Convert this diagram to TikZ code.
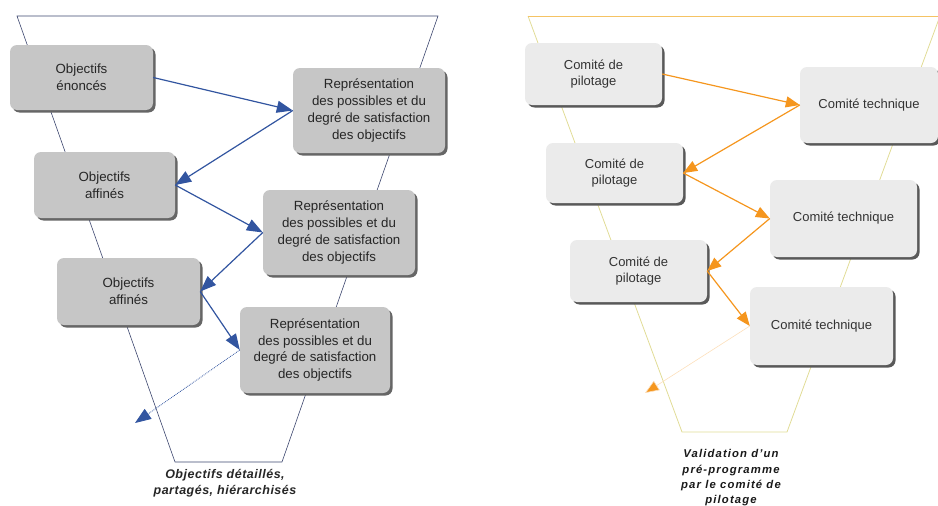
\documentclass[tikz,border=0pt]{standalone}
\usepackage{fontspec}
\setmainfont{Liberation Sans}
\usetikzlibrary{arrows.meta,shadows}
\definecolor{funnelblue}{RGB}{60,70,110}
\definecolor{arrowblue}{RGB}{50,85,160}
\definecolor{arroworange}{RGB}{245,150,30}
\definecolor{funnelorange}{RGB}{245,195,100}
\definecolor{funnelside}{RGB}{225,220,150}
\tikzset{
    boxsize/.style 2 args={minimum width=#1pt,minimum height=#2pt},
    greybox/.style={rounded corners=7pt,fill=gray!45,text=black!85,inner sep=0pt,
      align=center,font=\fontsize{13.3}{16.7}\selectfont,
      drop shadow={shadow xshift=2.5pt,shadow yshift=-2.5pt,fill=black!60,opacity=1}},
    lightbox/.style={rounded corners=7pt,fill=gray!16,text=black!80,inner sep=0pt,
      align=center,font=\fontsize{13}{16.5}\selectfont,
      drop shadow={shadow xshift=2.5pt,shadow yshift=-2.5pt,fill=black!65,opacity=1}},
    bluearrow/.style={draw=arrowblue,line width=1.2pt,-{Triangle[length=16pt,width=12pt]}},
    orangearrow/.style={draw=arroworange,line width=1.2pt,-{Triangle[length=14pt,width=11pt]}}
}
\begin{document}
\begin{tikzpicture}[x=1pt,y=-1pt]
    \useasboundingbox (0,0) rectangle (938,506);
    %% funnels
    \draw[funnelblue,line width=0.6pt] (17,16) -- (438,16) -- (282,462) -- (175,462) -- cycle;
    \draw[funnelside,line width=0.8pt] (940,16) -- (787,432) -- (682,432) -- (528,16);
    \draw[funnelorange,line width=0.9pt] (528,16) -- (940,16);
    %% objectives
    \node[greybox,boxsize={143}{65}] (enonces) at (81.5,77.5) {Objectifs\\énoncés};
    \node[greybox,boxsize={152}{85}] (repA) at (369,110.5) {Représentation\\des possibles et du\\degré de satisfaction\\des objectifs};
    \node[greybox,boxsize={141}{66}] (affinesA) at (104.5,185) {Objectifs\\affinés};
    \node[greybox,boxsize={152}{85}] (repB) at (339,232.5) {Représentation\\des possibles et du\\degré de satisfaction\\des objectifs};
    \node[greybox,boxsize={143}{67}] (affinesB) at (128.5,291.5) {Objectifs\\affinés};
    \node[greybox,boxsize={150}{86}] (repC) at (315,350) {Représentation\\des possibles et du\\degré de satisfaction\\des objectifs};
    \coordinate (leftend) at (135,423);
    \draw[bluearrow] (enonces.east) -- (repA.west);
    \draw[bluearrow] (repA.west) -- (affinesA.east);
    \draw[bluearrow] (affinesA.east) -- (repB.west);
    \draw[bluearrow] (repB.west) -- (affinesB.east);
    \draw[bluearrow] (affinesB.east) -- (repC.west);
    \draw[arrowblue,line width=0.8pt,densely dotted,-{Triangle[length=16pt,width=12pt]}] (repC.west) -- (leftend);
    \node[align=center,font=\fontsize{12.5}{16}\selectfont\bfseries\itshape\addfontfeature{LetterSpace=4},text=black!85] (capA) at (225,483) {Objectifs détaillés,\\partagés, hiérarchisés};
    %% committees
    \node[lightbox,boxsize={137}{62}] (pilotA) at (593.5,74) {Comité de\\pilotage};
    \node[lightbox,boxsize={138}{76}] (techA) at (869,105) {Comité technique};
    \node[lightbox,boxsize={137}{60}] (pilotB) at (614.5,173) {Comité de\\pilotage};
    \node[lightbox,boxsize={147}{77}] (techB) at (843.5,218.5) {Comité technique};
    \node[lightbox,boxsize={137}{62}] (pilotC) at (638.5,271) {Comité de\\pilotage};
    \node[lightbox,boxsize={143}{78}] (techC) at (821.5,326) {Comité technique};
    \coordinate (rightend) at (645,393);
    \draw[orangearrow] (pilotA.east) -- (techA.west);
    \draw[orangearrow] (techA.west) -- (pilotB.east);
    \draw[orangearrow] (pilotB.east) -- (techB.west);
    \draw[orangearrow] (techB.west) -- (pilotC.east);
    \draw[orangearrow] (pilotC.east) -- (techC.west);
    \draw[orangearrow,draw=arroworange!30,line width=0.6pt,-{Triangle[length=14pt,width=11pt,fill=arroworange]}] (techC.west) -- (rightend);
    \node[align=center,font=\fontsize{11.3}{15.3}\selectfont\bfseries\itshape\addfontfeature{LetterSpace=10},text=black!90] (capB) at (731,478) {Validation d’un\\pré-programme\\par le comité de\\pilotage};
\end{tikzpicture}
\end{document}
